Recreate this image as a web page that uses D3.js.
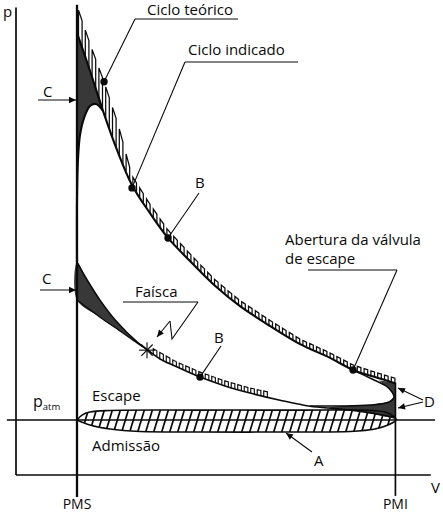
<!DOCTYPE html>
<html><head><meta charset="utf-8">
<script src="https://cdnjs.cloudflare.com/ajax/libs/d3/7.8.5/d3.min.js"></script>
<style>
html,body{margin:0;padding:0;background:#fff;}
svg{display:block;}
text{font-family:"Open Sans","Noto Sans",sans-serif;fill:#0a0a0a;}
</style></head><body>
<svg id="c" width="443" height="513"></svg>
<script>
// ---------- data (V: volume units, PMS = 1 ; p: pressure units, p_atm = 1) ----------
const V_PMS = 1.0, V_PMI = 6.22, P_ATM = 1.0;
const expansionIndicated = [[1.00,8.04],[1.213,7.35],[1.426,6.62],[1.656,5.91],[1.902,5.27],[2.197,4.76],[2.492,4.31],[2.852,3.89],[3.262,3.44],[3.672,3.07],[4.164,2.71],[4.656,2.38],[5.148,2.13],[5.525,1.91],[5.885,1.78],[6.213,1.67]];
const expansionTheoretical = [[1.00,8.53],[1.213,7.84],[1.443,7.15],[1.672,6.38],[1.902,5.44],[2.197,4.92],[2.492,4.45],[2.852,4.02],[3.262,3.55],[3.672,3.17],[4.164,2.81],[4.656,2.47],[5.148,2.22],[5.525,2.00],[5.885,1.87],[6.213,1.76]];
const combustionIndicated = [[1.00,3.87],[1.00,5.00],[1.016,5.73],[1.049,6.18],[1.115,6.49],[1.213,6.71],[1.311,6.745],[1.426,6.62]];
const sparkToPMSIndicated = [[2.164,2.27],[1.984,2.42],[1.656,2.78],[1.377,3.18],[1.164,3.55],[1.00,3.87]];
const sparkToPMSTheoretical = [[2.164,2.27],[1.984,2.40],[1.705,2.62],[1.377,2.87],[1.00,3.18]];
const compressionIndicated = [[2.164,2.27],[2.361,2.11],[2.607,1.98],[3.016,1.78],[3.426,1.62],[3.836,1.49],[4.328,1.36],[4.820,1.25],[5.311,1.20],[5.803,1.13],[6.230,1.04]];
const compressionTheoretical = [[2.230,2.31],[2.607,2.07],[3.016,1.87],[3.426,1.71],[3.836,1.58],[4.131,1.51]];
const exhaustIndicated = [[5.525,1.91],[5.836,1.745],[6.066,1.618],[6.164,1.509],[6.197,1.418],[6.115,1.327],[5.803,1.273],[5.311,1.255],[4.820,1.255]];
const admissionUpper = [[1.00,1.00],[1.082,1.09],[1.213,1.145],[1.541,1.173],[3.016,1.18],[4.656,1.18],[5.639,1.18],[6.049,1.145],[6.180,1.073],[6.230,1.00]];
const admissionLower = [[1.00,1.00],[1.213,0.909],[1.541,0.836],[2.033,0.791],[3.016,0.782],[4.656,0.782],[5.475,0.791],[5.885,0.836],[6.098,0.909],[6.230,1.00]];
const markedPoints = {teorico:[1.443,7.15], indicado:[1.902,5.22], B1:[2.492,4.31], B2:[3.016,1.78], abertura:[5.525,1.91]};
const spark = [2.164,2.27];
const labels = {p:"p", V:"V", pms:"PMS", pmi:"PMI", teo:"Ciclo teórico", ind:"Ciclo indicado", ab1:"Abertura da válvula", ab2:"de escape", fa:"Faísca", esc:"Escape", adm:"Admissão"};

// ---------- scales ----------
const X = d3.scaleLinear().domain([0,7]).range([16,443]);
const Y = d3.scaleLinear().domain([0,8.6]).range([475,2]);
const svg = d3.select("#c");
const line = d3.line().x(d=>X(d[0])).y(d=>Y(d[1])).curve(d3.curveCatmullRom.alpha(0.5));
const lin = d3.line().x(d=>X(d[0])).y(d=>Y(d[1]));
const INK = "#0a0a0a", DARK = "#383838";
const FS = 15;

// ---------- admission loop (A) with hatching ----------
const loopPts = admissionUpper.concat(admissionLower.slice().reverse().slice(1));
const loopD = line(loopPts) + "Z";
svg.append("clipPath").attr("id","loopclip").append("path").attr("d", loopD);
const hatch = svg.append("g").attr("clip-path","url(#loopclip)");
d3.range(X(V_PMS)-20, X(V_PMI)+10, 8).forEach(x0=>{
  hatch.append("line").attr("x1",x0).attr("y1",Y(0.74)).attr("x2",x0+8).attr("y2",Y(1.22))
    .attr("stroke",INK).attr("stroke-width",1.7);
});

// ---------- dark regions (C, C, D) ----------
const upperC = expansionIndicated.slice(0,3).concat(combustionIndicated.slice(1,7).reverse());
svg.append("path").attr("d", line(upperC)+"Z").attr("fill",DARK);
const lowerC = sparkToPMSIndicated.concat(sparkToPMSTheoretical.slice(1).reverse());
svg.append("path").attr("d", line(lowerC)+"Z").attr("fill",DARK);
const dRegion = [[V_PMI,1.68],[V_PMI,1.02],[5.803,1.13],[5.311,1.20],[5.10,1.228],[5.311,1.255],[5.803,1.273],[6.115,1.327],[6.197,1.418],[6.164,1.509],[6.066,1.618],[5.95,1.72]];
svg.append("path").attr("d", lin(dRegion)+"Z").attr("fill",DARK);

// ---------- axes & reference lines ----------
function seg(x1,y1,x2,y2,w,col){ return svg.append("line").attr("x1",x1).attr("y1",y1).attr("x2",x2).attr("y2",y2).attr("stroke",col||INK).attr("stroke-width",w); }
seg(X(0),Y(8.5),X(0),Y(0),1.7);          // p axis
seg(X(0),Y(0),X(6.8),Y(0),1.7);          // V axis
seg(X(-0.15),Y(P_ATM),X(6.87),Y(P_ATM),1.4); // p_atm
seg(X(V_PMS),Y(8.55),X(V_PMS),Y(-0.4),2.3);  // PMS
seg(X(V_PMI),Y(1.68),X(V_PMI),Y(-0.38),1.7); // PMI

// ---------- cycle curves ----------
function curve(data,w){ return svg.append("path").attr("d",line(data)).attr("fill","none").attr("stroke",INK).attr("stroke-width",w).attr("stroke-linejoin","round"); }
curve(expansionIndicated,2.1);
curve(combustionIndicated,2.1);
curve(sparkToPMSIndicated,1.5);
curve(sparkToPMSTheoretical,1.2);
curve(compressionIndicated,1.6);
curve(exhaustIndicated,1.5);
svg.append("path").attr("d",loopD).attr("fill","none").attr("stroke",INK).attr("stroke-width",1.6);

// ---------- comb (difference between theoretical and indicated) ----------
function comb(ind, th, xs, xe, step, w, sw){
  const fi = d3.scaleLinear().domain(ind.map(d=>X(d[0]))).range(ind.map(d=>Y(d[1]))).clamp(true);
  const ft = d3.scaleLinear().domain(th.map(d=>X(d[0]))).range(th.map(d=>Y(d[1]))).clamp(true);
  d3.range(xs, xe, step).forEach(sx=>{
    const p = d3.path();
    p.moveTo(sx, fi(sx)); p.lineTo(sx, ft(sx)); p.lineTo(sx+w, ft(sx+w)); p.lineTo(sx+w, fi(sx+w));
    svg.append("path").attr("d",p.toString()).attr("fill","none").attr("stroke",INK).attr("stroke-width",sw);
  });
}
comb(expansionIndicated, expansionTheoretical, X(V_PMS)+1.5, X(V_PMI)-2, 6.8, 3.6, 1.25);
comb(compressionIndicated, compressionTheoretical, X(2.25), X(4.1), 6.5, 3.6, 1.15);

// ---------- points ----------
Object.values(markedPoints).forEach(d=>{
  svg.append("circle").attr("cx",X(d[0])).attr("cy",Y(d[1])).attr("r",3.7).attr("fill",INK);
});
// spark
const sx = X(spark[0])-1, sy = Y(spark[1]);
[0,45,90,135].forEach(a=>{
  const r=8, t=a*Math.PI/180;
  seg(sx-r*Math.cos(t), sy-r*Math.sin(t), sx+r*Math.cos(t), sy+r*Math.sin(t), 1.1);
});

// ---------- leaders & arrows ----------
function arrow(x1,y1,x2,y2,s){
  s = s||7;
  seg(x1,y1,x2,y2,1.1);
  const a = Math.atan2(y2-y1,x2-x1), c=Math.cos(a), n=Math.sin(a);
  const bx=x2-s*c, by=y2-s*n, h=s*0.45;
  svg.append("path").attr("d",`M${x2},${y2}L${bx-h*n},${by+h*c}L${bx+h*n},${by-h*c}Z`).attr("fill",INK);
}
const mp = markedPoints;
seg(135,19,238,19,1.1); seg(135,19,X(mp.teorico[0]),Y(mp.teorico[1]),1.1);
seg(185,62,298,62,1.1); seg(185,62,X(mp.indicado[0]),Y(mp.indicado[1]),1.1);
seg(199,193,X(mp.B1[0]),Y(mp.B1[1]),1.1);
seg(221,346,X(mp.B2[0]),Y(mp.B2[1]),1.1);
seg(308,270,397,270,1.1); seg(397,270,X(mp.abertura[0]),Y(mp.abertura[1]),1.1);
arrow(38,100,X(V_PMS)-1,100);
arrow(40,290,X(V_PMS)-1,290);
arrow(312,452,286,433);
arrow(423,400,398,388);
arrow(423,402,398,408);
// Faísca lightning
seg(123,302,198,302,1.1);
svg.append("path").attr("d","M198,302L172,339L170,321").attr("fill","none").attr("stroke",INK).attr("stroke-width",1.1);
arrow(170,321,157,337,7);

// ---------- text ----------
function txt(s,x,y,size,anchor){ return svg.append("text").attr("x",x).attr("y",y).attr("font-size",size).attr("text-anchor",anchor||"start").text(s); }
txt(labels.p,3,17,15);
txt(labels.teo,147,15,FS);
txt(labels.ind,188,55,FS);
txt("C",43,97,FS); txt("C",42,284,FS);
txt("B",195,188,FS); txt("B",214,343,FS);
txt(labels.ab1,285,245,FS);
txt(labels.ab2,285,264,FS);
txt(labels.fa,135,297,FS);
txt("D",424,407,FS);
const pa = txt("",33,407,16);
pa.append("tspan").text("p");
pa.append("tspan").attr("font-size",9.5).attr("dy",3).text("atm");
txt(labels.esc,92,401,FS);
txt(labels.adm,92,451,FS);
txt("A",314,466,FS);
txt(labels.pms,X(V_PMS),509,14,"middle");
txt(labels.pmi,X(V_PMI),509,14,"middle");
txt(labels.V,431,493,15);
</script>
</body></html>
